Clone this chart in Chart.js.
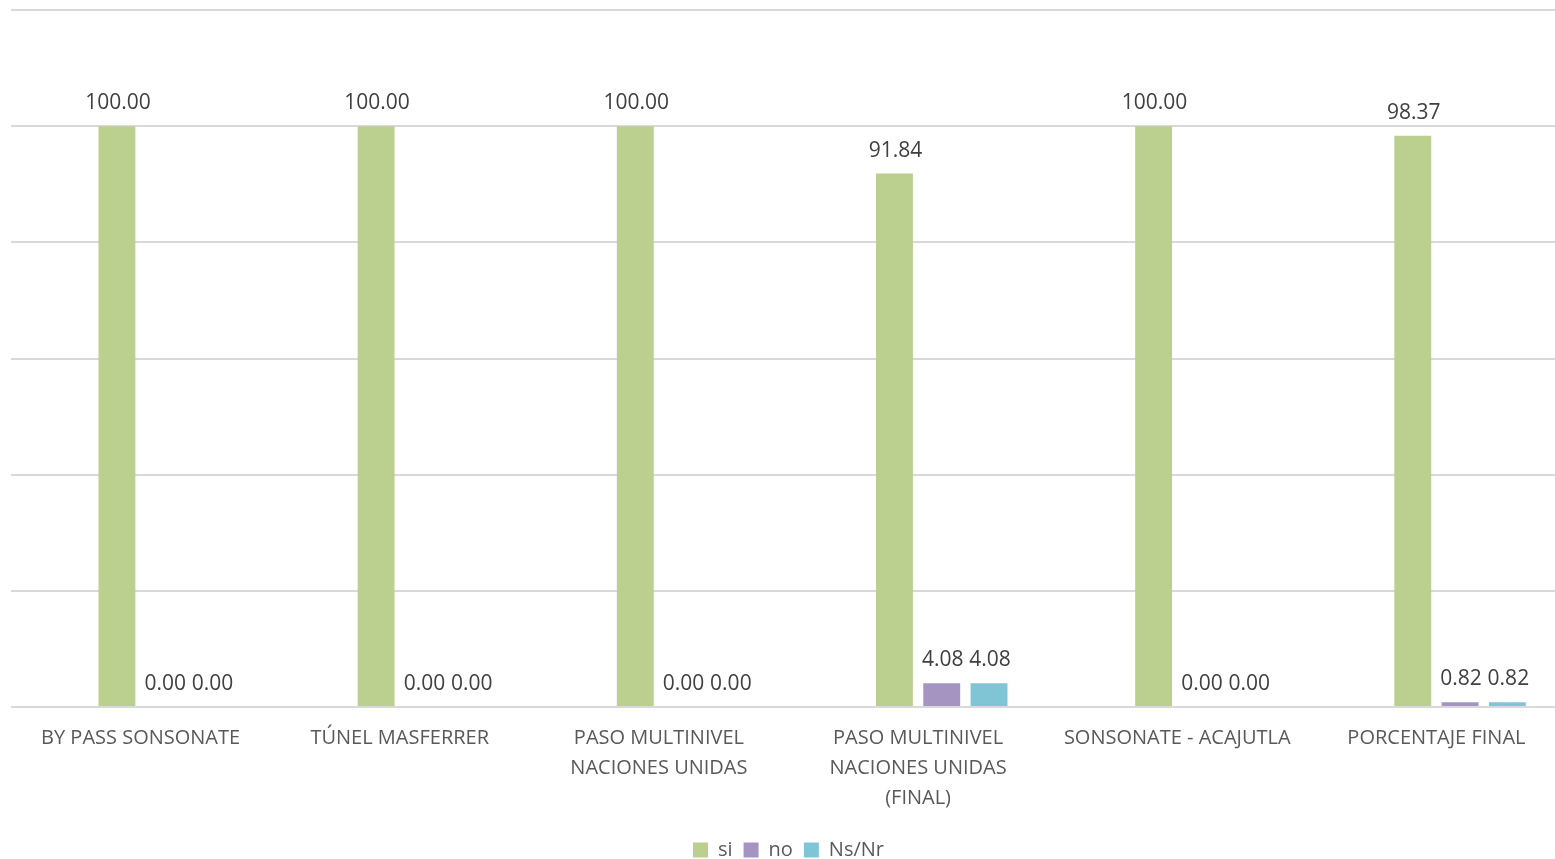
<!DOCTYPE html>
<html>
<head>
<meta charset="utf-8">
<script src="https://cdn.jsdelivr.net/npm/chart.js@4/dist/chart.umd.min.js"></script>
<style>
  html, body { margin: 0; padding: 0; background: #fff; overflow: hidden; }
  #wrap { width: 1566px; height: 859px; }
</style>
</head>
<body>
<div id="wrap"><canvas id="encuesta"></canvas></div>
<script>
const categorias = [
  'BY PASS SONSONATE',
  'TÚNEL MASFERRER',
  ['PASO MULTINIVEL', 'NACIONES UNIDAS'],
  ['PASO MULTINIVEL', 'NACIONES UNIDAS', '(FINAL)'],
  'SONSONATE - ACAJUTLA',
  'PORCENTAJE FINAL'
];
const si = [100.00, 100.00, 100.00, 91.84, 100.00, 98.37];
const no = [0.00, 0.00, 0.00, 4.08, 0.00, 0.82];
const nsnr = [0.00, 0.00, 0.00, 4.08, 0.00, 0.82];

// etiquetas de valor sobre cada barra
const etiquetas = {
  id: 'etiquetas',
  afterDatasetsDraw(chart) {
    const ctx = chart.ctx;
    ctx.save();
    ctx.font = '21px "Open Sans", sans-serif';
    ctx.fillStyle = '#404040';
    ctx.textAlign = 'center';
    ctx.textBaseline = 'middle';
    chart.data.datasets.forEach((ds, i) => {
      if (!ds.label) return;
      chart.getDatasetMeta(i).data.forEach((bar, j) => {
        ctx.fillText(ds.data[j].toFixed(2), bar.x + 1, bar.y - 23);
      });
    });
    ctx.restore();
  }
};

new Chart(document.getElementById('encuesta'), {
  type: 'bar',
  data: {
    labels: categorias,
    datasets: [
      { label: '', data: [], backgroundColor: 'rgba(0,0,0,0)' },
      { label: 'si', data: si, backgroundColor: '#BBCF8E' },
      { label: 'no', data: no, backgroundColor: '#A593C2' },
      { label: 'Ns/Nr', data: nsnr, backgroundColor: '#80C5D6' }
    ]
  },
  options: {
    responsive: true,
    maintainAspectRatio: false,
    animation: false,
    categoryPercentage: 0.73,
    barPercentage: 0.78,
    layout: { padding: { left: 11, top: 10, right: 0, bottom: -11 } },
    plugins: {
      tooltip: { enabled: false },
      legend: {
        position: 'bottom',
        labels: {
          filter: (item) => item.text !== '',
          boxWidth: 15,
          boxHeight: 15,
          padding: 11,
          color: '#595959',
          font: { family: '"Open Sans", sans-serif', size: 20 }
        }
      }
    },
    scales: {
      x: {
        grid: { display: false, drawTicks: false },
        border: { display: false },
        ticks: {
          padding: 16,
          maxRotation: 0,
          autoSkip: false,
          color: '#595959',
          font: { family: '"Open Sans", sans-serif', size: 20, lineHeight: 1.5 }
        }
      },
      y: {
        min: 0,
        max: 120,
        ticks: { display: false, stepSize: 20 },
        grid: { color: '#D9D9D9', lineWidth: 2, drawTicks: false },
        border: { display: false }
      }
    }
  },
  plugins: [etiquetas]
});
</script>
</body>
</html>
